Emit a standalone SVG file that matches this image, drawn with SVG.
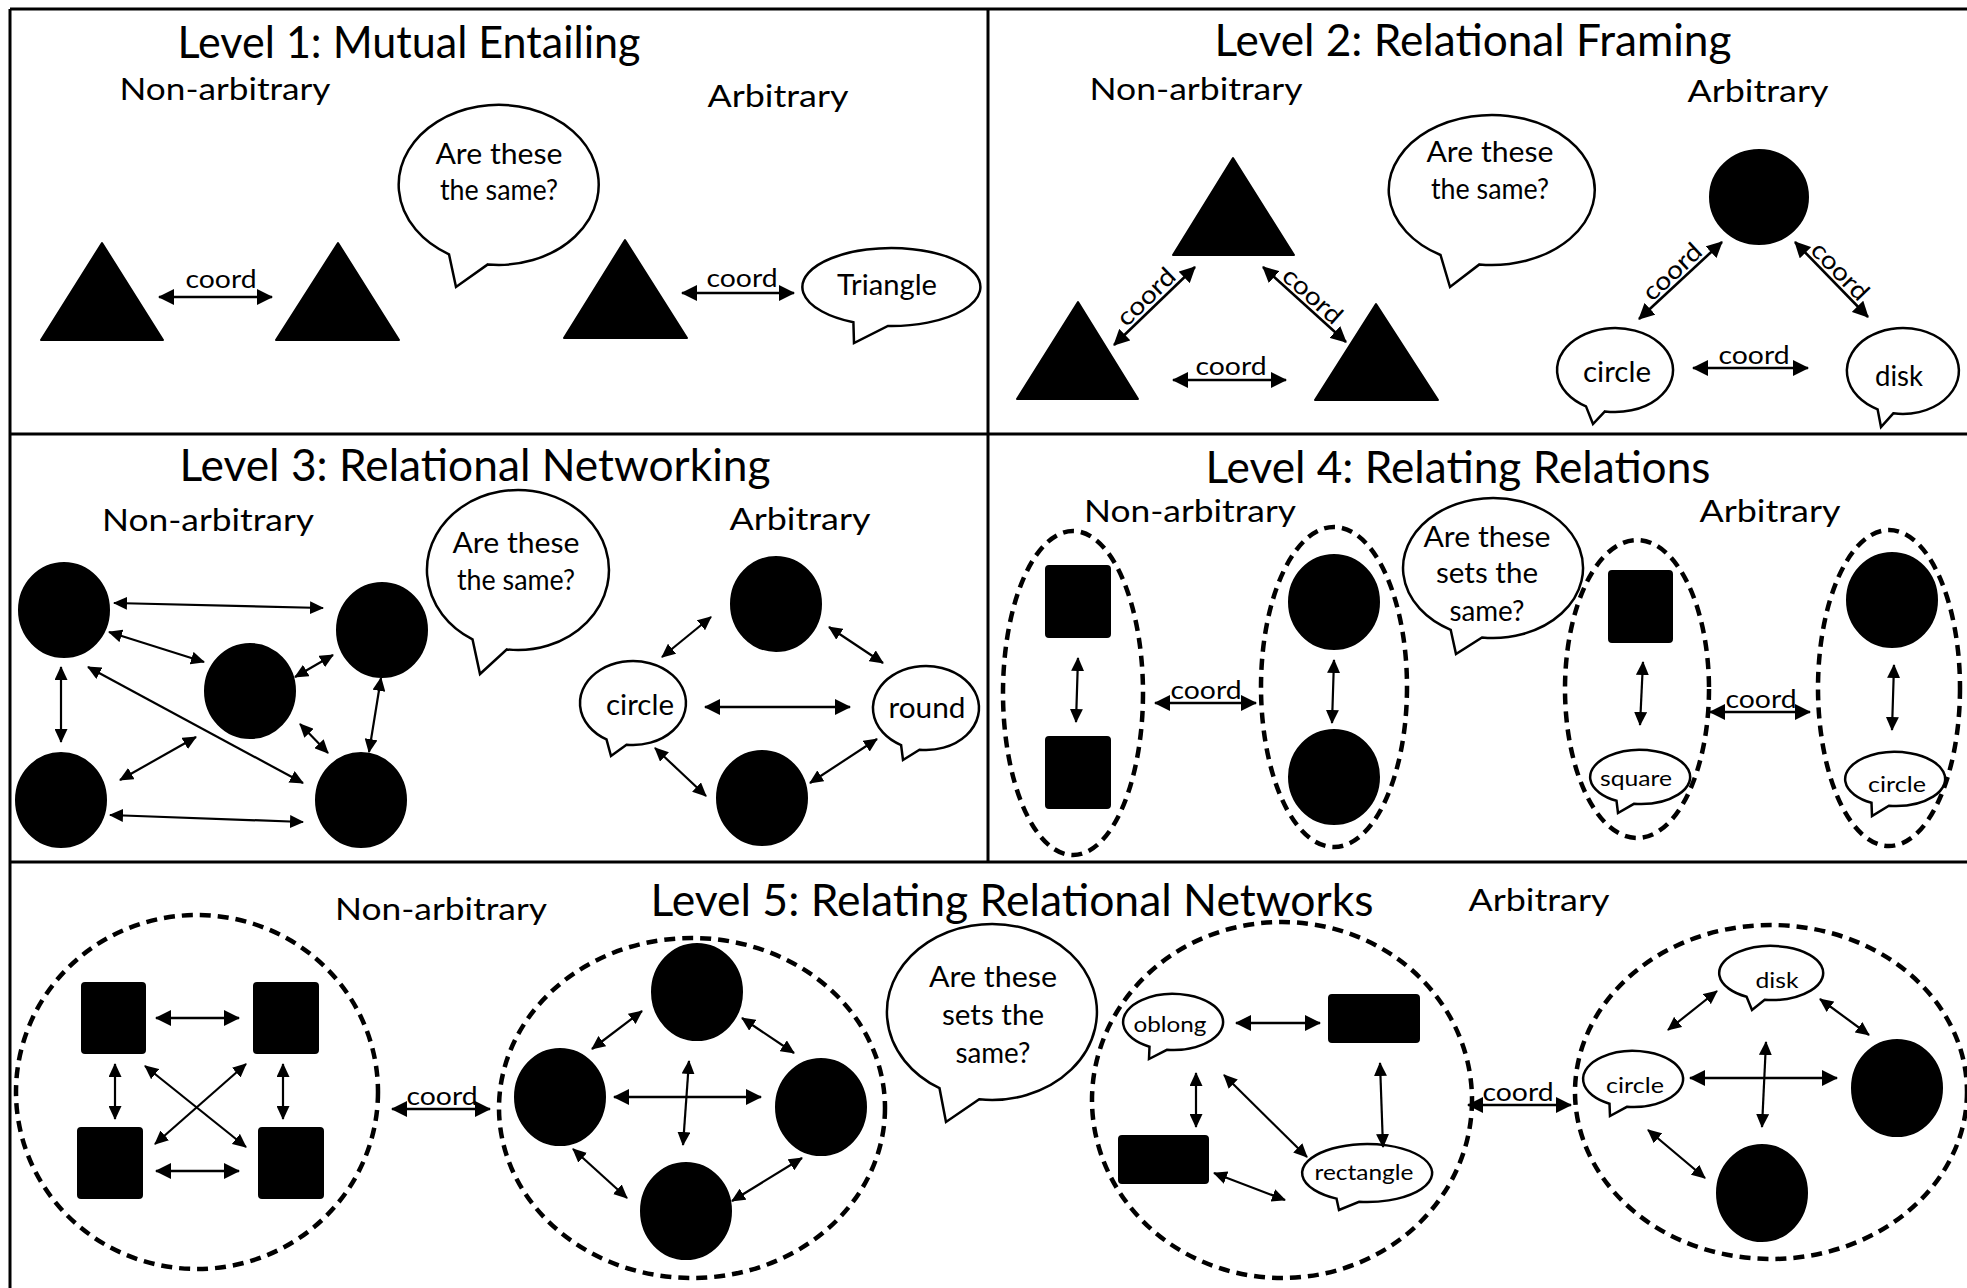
<svg xmlns="http://www.w3.org/2000/svg" width="1967" height="1288" viewBox="0 0 1967 1288">
<defs>
  <marker id="ah" viewBox="0 0 16 16" refX="15" refY="8" markerWidth="16" markerHeight="16" markerUnits="userSpaceOnUse" orient="auto-start-reverse">
    <path d="M0,0 L16,8 L0,16 Z" fill="#000"/>
  </marker>
  <marker id="as" viewBox="0 0 14 13" refX="13" refY="6.5" markerWidth="14" markerHeight="13" markerUnits="userSpaceOnUse" orient="auto-start-reverse">
    <path d="M0,0 L14,6.5 L0,13 Z" fill="#000"/>
  </marker>
  <style>
    .frame{stroke:#000;stroke-width:3;fill:none}
    .solid{fill:#000;stroke:#000;stroke-width:2;stroke-linejoin:round}
    .bub{fill:#fff;stroke:#000;stroke-width:2.5;stroke-linejoin:miter}
    .dash{fill:none;stroke:#000;stroke-width:4.5;stroke-dasharray:11 7}
    .arr{stroke:#000;stroke-width:2.6;fill:none;marker-start:url(#ah);marker-end:url(#ah)}
    .arr2{stroke:#000;stroke-width:2.2;fill:none;marker-start:url(#as);marker-end:url(#as)}
    text{font-family:Lato,"Liberation Sans",sans-serif;fill:#000;text-anchor:middle}
    .title{font-size:45px}
    .sub{font-size:31px}
    .q{font-size:29px}
    .lbl{font-size:28px}
    .sm{font-size:22px}
    .coord{font-size:25px}
  </style>
</defs>

<!-- panel frame -->
<g id="frame">
  <line class="frame" x1="10" y1="9" x2="1967" y2="9"/>
  <line class="frame" x1="10" y1="9" x2="10" y2="1288"/>
  <line class="frame" x1="10" y1="434" x2="1967" y2="434"/>
  <line class="frame" x1="10" y1="862" x2="1967" y2="862"/>
  <line class="frame" x1="988" y1="9" x2="988" y2="862"/>
</g>

<!-- headings -->
<g id="headings">
  <text class="title" x="409" y="58" textLength="463" lengthAdjust="spacingAndGlyphs">Level 1: Mutual Entailing</text>
  <text class="title" x="1473" y="56" textLength="517" lengthAdjust="spacingAndGlyphs">Level 2: Relational Framing</text>
  <text class="title" x="475" y="481" textLength="591" lengthAdjust="spacingAndGlyphs">Level 3: Relational Networking</text>
  <text class="title" x="1458" y="483" textLength="505" lengthAdjust="spacingAndGlyphs">Level 4: Relating Relations</text>
  <text class="title" x="1012" y="916" textLength="723" lengthAdjust="spacingAndGlyphs">Level 5: Relating Relational Networks</text>

  <text class="sub" x="225" y="100" textLength="211" lengthAdjust="spacingAndGlyphs">Non-arbitrary</text>
  <text class="sub" x="778" y="107" textLength="141" lengthAdjust="spacingAndGlyphs">Arbitrary</text>
  <text class="sub" x="1196" y="100" textLength="213" lengthAdjust="spacingAndGlyphs">Non-arbitrary</text>
  <text class="sub" x="1758" y="102" textLength="141" lengthAdjust="spacingAndGlyphs">Arbitrary</text>
  <text class="sub" x="208" y="531" textLength="212" lengthAdjust="spacingAndGlyphs">Non-arbitrary</text>
  <text class="sub" x="800" y="530" textLength="141" lengthAdjust="spacingAndGlyphs">Arbitrary</text>
  <text class="sub" x="1190" y="522" textLength="212" lengthAdjust="spacingAndGlyphs">Non-arbitrary</text>
  <text class="sub" x="1770" y="522" textLength="141" lengthAdjust="spacingAndGlyphs">Arbitrary</text>
  <text class="sub" x="441" y="920" textLength="212" lengthAdjust="spacingAndGlyphs">Non-arbitrary</text>
  <text class="sub" x="1539" y="911" textLength="141" lengthAdjust="spacingAndGlyphs">Arbitrary</text>
</g>

<!-- ===== Level 1 ===== -->
<g id="l1-tri-a"><polygon class="solid" points="41,340 102,243 163,340"/></g>
<g id="l1-tri-b"><polygon class="solid" points="276,340 338,243 399,340"/></g>
<g id="l1-tri-c"><polygon class="solid" points="564,338 625,240 687,338"/></g>
<g id="l1-question">
  <path class="bub" d="M449,254.3 A100,80 0 1 1 487.8,264.4 L456,287 Z"/>
  <text class="q" x="499" y="164" textLength="127" lengthAdjust="spacingAndGlyphs">Are these</text>
  <text class="q" x="499" y="200" textLength="118" lengthAdjust="spacingAndGlyphs">the same?</text>
</g>
<g id="l1-word-triangle">
  <path class="bub" d="M853.4,322.3 A89,39 0 1 1 887.9,326 L854,343 Z"/>
  <text class="lbl" x="887" y="295" textLength="100" lengthAdjust="spacingAndGlyphs">Triangle</text>
</g>

<!-- ===== Level 2 ===== -->
<g id="l2-tri-top"><polygon class="solid" points="1173,255 1233,158 1294,255"/></g>
<g id="l2-tri-left"><polygon class="solid" points="1017,399 1078,302 1138,399"/></g>
<g id="l2-tri-right"><polygon class="solid" points="1315,400 1376,304 1438,400"/></g>
<g id="l2-question">
  <path class="bub" d="M1440.5,255 A103,75 0 1 1 1479.4,264.4 L1450,287 Z"/>
  <text class="q" x="1490" y="162" textLength="127" lengthAdjust="spacingAndGlyphs">Are these</text>
  <text class="q" x="1490" y="199" textLength="118" lengthAdjust="spacingAndGlyphs">the same?</text>
</g>
<g id="l2-disc"><ellipse class="solid" cx="1759" cy="197" rx="49" ry="47"/></g>
<g id="l2-word-circle">
  <path class="bub" d="M1586,406.4 A58,42 0 1 1 1604.9,411.4 L1593,424 Z"/>
  <text class="lbl" x="1617" y="382" textLength="68" lengthAdjust="spacingAndGlyphs">circle</text>
</g>
<g id="l2-word-disk">
  <path class="bub" d="M1877.6,409.3 A56,43 0 1 1 1893.3,413.3 L1881,427 Z"/>
  <text class="lbl" x="1899" y="386" textLength="48" lengthAdjust="spacingAndGlyphs">disk</text>
</g>

<!-- ===== Level 3 ===== -->
<g id="l3-n1"><ellipse class="solid" cx="64" cy="610" rx="45" ry="47"/></g>
<g id="l3-n2"><ellipse class="solid" cx="382" cy="630" rx="45" ry="47"/></g>
<g id="l3-n3"><ellipse class="solid" cx="250" cy="691" rx="45" ry="47"/></g>
<g id="l3-n4"><ellipse class="solid" cx="61" cy="800" rx="45" ry="47"/></g>
<g id="l3-n5"><ellipse class="solid" cx="361" cy="800" rx="45" ry="47"/></g>
<g id="l3-question">
  <path class="bub" d="M472.5,639.3 A91,80 0 1 1 506.9,649.4 L480,674 Z"/>
  <text class="q" x="516" y="553" textLength="127" lengthAdjust="spacingAndGlyphs">Are these</text>
  <text class="q" x="516" y="590" textLength="118" lengthAdjust="spacingAndGlyphs">the same?</text>
</g>
<g id="l3-a-top"><ellipse class="solid" cx="776" cy="604" rx="45" ry="47"/></g>
<g id="l3-a-bottom"><ellipse class="solid" cx="762" cy="798" rx="45" ry="47"/></g>
<g id="l3-word-circle">
  <path class="bub" d="M606.5,739.4 A53,42 0 1 1 626.5,744.7 L611,756 Z"/>
  <text class="lbl" x="640" y="715" textLength="68" lengthAdjust="spacingAndGlyphs">circle</text>
</g>
<g id="l3-word-round">
  <path class="bub" d="M901.1,745.1 A53,42 0 1 1 919.5,749.7 L903,760 Z"/>
  <text class="lbl" x="927" y="718" textLength="77" lengthAdjust="spacingAndGlyphs">round</text>
</g>

<!-- ===== Level 4 ===== -->
<g id="l4-set-squares">
  <ellipse class="dash" cx="1073" cy="693" rx="70" ry="162"/>
  <rect class="solid" x="1046" y="566" width="64" height="71" rx="3"/>
  <rect class="solid" x="1046" y="737" width="64" height="71" rx="3"/>
</g>
<g id="l4-set-discs">
  <ellipse class="dash" cx="1334" cy="687" rx="73" ry="160"/>
  <ellipse class="solid" cx="1334" cy="602" rx="45" ry="47"/>
  <ellipse class="solid" cx="1334" cy="777" rx="45" ry="47"/>
</g>
<g id="l4-question">
  <path class="bub" d="M1450.7,629.8 A90,70 0 1 1 1482,637.5 L1456,654 Z"/>
  <text class="q" x="1487" y="547" textLength="127" lengthAdjust="spacingAndGlyphs">Are these</text>
  <text class="q" x="1487" y="583" textLength="102" lengthAdjust="spacingAndGlyphs">sets the</text>
  <text class="q" x="1487" y="621" textLength="75" lengthAdjust="spacingAndGlyphs">same?</text>
</g>
<g id="l4-set-square-word">
  <ellipse class="dash" cx="1637" cy="689" rx="72" ry="149"/>
  <rect class="solid" x="1609" y="571" width="63" height="71" rx="3"/>
  <path class="bub" d="M1616.5,800.8 A50,27 0 1 1 1633.9,803.8 L1618,813 Z"/>
  <text class="sm" x="1636" y="786" textLength="72" lengthAdjust="spacingAndGlyphs">square</text>
</g>
<g id="l4-set-disc-word">
  <ellipse class="dash" cx="1889" cy="688" rx="71" ry="158"/>
  <ellipse class="solid" cx="1892" cy="600" rx="45" ry="47"/>
  <path class="bub" d="M1871.5,802.8 A50,27 0 1 1 1888.9,805.8 L1872,816 Z"/>
  <text class="sm" x="1897" y="792" textLength="58" lengthAdjust="spacingAndGlyphs">circle</text>
</g>

<!-- ===== Level 5 ===== -->
<g id="l5-net-squares">
  <ellipse class="dash" cx="197" cy="1092" rx="181" ry="177"/>
  <rect class="solid" x="82" y="983" width="63" height="70" rx="3"/>
  <rect class="solid" x="254" y="983" width="64" height="70" rx="3"/>
  <rect class="solid" x="78" y="1128" width="64" height="70" rx="3"/>
  <rect class="solid" x="259" y="1128" width="64" height="70" rx="3"/>
</g>
<g id="l5-net-discs">
  <ellipse class="dash" cx="692" cy="1108" rx="193" ry="170"/>
  <ellipse class="solid" cx="697" cy="992" rx="45" ry="48"/>
  <ellipse class="solid" cx="560" cy="1097" rx="45" ry="48"/>
  <ellipse class="solid" cx="821" cy="1107" rx="45" ry="48"/>
  <ellipse class="solid" cx="686" cy="1211" rx="45" ry="48"/>
</g>
<g id="l5-question">
  <path class="bub" d="M939.5,1088.2 A105,88 0 1 1 979.2,1099.3 L946,1122 Z"/>
  <text class="q" x="993" y="987" textLength="128" lengthAdjust="spacingAndGlyphs">Are these</text>
  <text class="q" x="993" y="1025" textLength="102" lengthAdjust="spacingAndGlyphs">sets the</text>
  <text class="q" x="993" y="1063" textLength="75" lengthAdjust="spacingAndGlyphs">same?</text>
</g>
<g id="l5-net-words-a">
  <ellipse class="dash" cx="1282" cy="1100" rx="190" ry="178"/>
  <rect class="solid" x="1329" y="995" width="90" height="47" rx="3"/>
  <rect class="solid" x="1119" y="1136" width="89" height="47" rx="3"/>
  <path class="bub" d="M1149.5,1046.7 A50,28 0 1 1 1166.9,1049.8 L1149,1059 Z"/>
  <text class="sm" x="1170" y="1032" textLength="73" lengthAdjust="spacingAndGlyphs">oblong</text>
  <path class="bub" d="M1336.5,1198.6 A65,29 0 1 1 1359.1,1201.8 L1339,1210 Z"/>
  <text class="sm" x="1364" y="1180" textLength="99" lengthAdjust="spacingAndGlyphs">rectangle</text>
</g>
<g id="l5-net-words-b">
  <ellipse class="dash" cx="1771" cy="1092" rx="196" ry="167"/>
  <path class="bub" d="M1746.6,996.8 A52,27 0 1 1 1764.7,999.8 L1752,1010 Z"/>
  <text class="sm" x="1777" y="988" textLength="43" lengthAdjust="spacingAndGlyphs">disk</text>
  <path class="bub" d="M1609.5,1103.7 A50,28 0 1 1 1626.9,1106.8 L1610,1116 Z"/>
  <text class="sm" x="1635" y="1093" textLength="58" lengthAdjust="spacingAndGlyphs">circle</text>
  <ellipse class="solid" cx="1897" cy="1088" rx="45" ry="48"/>
  <ellipse class="solid" cx="1762" cy="1193" rx="45" ry="48"/>
</g>

<!-- ===== connectors ===== -->
<g id="connectors">
  <!-- level 1 -->
  <line class="arr" x1="159" y1="297" x2="272" y2="297"/>
  <line class="arr" x1="682" y1="293" x2="794" y2="293"/>
  <!-- level 2 -->
  <line class="arr" x1="1114" y1="345" x2="1195" y2="267"/>
  <line class="arr" x1="1263" y1="267" x2="1346" y2="342"/>
  <line class="arr" x1="1173" y1="380" x2="1286" y2="380"/>
  <line class="arr" x1="1722" y1="242" x2="1639" y2="319"/>
  <line class="arr" x1="1795" y1="242" x2="1868" y2="317"/>
  <line class="arr" x1="1693" y1="368" x2="1808" y2="368"/>
  <!-- level 3, non-arbitrary -->
  <line class="arr2" x1="114" y1="603" x2="323" y2="608"/>
  <line class="arr2" x1="109" y1="632" x2="204" y2="662"/>
  <line class="arr2" x1="333" y1="655" x2="295" y2="677"/>
  <line class="arr2" x1="61" y1="667" x2="61" y2="742"/>
  <line class="arr2" x1="88" y1="667" x2="303" y2="783"/>
  <line class="arr2" x1="300" y1="724" x2="328" y2="753"/>
  <line class="arr2" x1="381" y1="678" x2="369" y2="752"/>
  <line class="arr2" x1="120" y1="780" x2="196" y2="737"/>
  <line class="arr2" x1="110" y1="815" x2="303" y2="822"/>
  <!-- level 3, arbitrary -->
  <line class="arr2" x1="711" y1="617" x2="662" y2="657"/>
  <line class="arr2" x1="829" y1="627" x2="883" y2="663"/>
  <line class="arr" x1="705" y1="707" x2="850" y2="707"/>
  <line class="arr2" x1="655" y1="748" x2="706" y2="796"/>
  <line class="arr2" x1="877" y1="739" x2="810" y2="783"/>
  <!-- level 4 -->
  <line class="arr2" x1="1078" y1="658" x2="1076" y2="722"/>
  <line class="arr2" x1="1334" y1="660" x2="1332" y2="723"/>
  <line class="arr" x1="1155" y1="703" x2="1256" y2="703"/>
  <line class="arr2" x1="1643" y1="662" x2="1640" y2="725"/>
  <line class="arr" x1="1710" y1="712" x2="1810" y2="712"/>
  <line class="arr2" x1="1894" y1="665" x2="1892" y2="730"/>
  <!-- level 5, squares -->
  <line class="arr" x1="156" y1="1018" x2="239" y2="1018"/>
  <line class="arr" x1="156" y1="1171" x2="239" y2="1171"/>
  <line class="arr2" x1="115" y1="1064" x2="115" y2="1119"/>
  <line class="arr2" x1="283" y1="1064" x2="283" y2="1119"/>
  <line class="arr2" x1="145" y1="1066" x2="246" y2="1147"/>
  <line class="arr2" x1="246" y1="1064" x2="155" y2="1144"/>
  <line class="arr" x1="392" y1="1109" x2="490" y2="1109"/>
  <!-- level 5, discs -->
  <line class="arr2" x1="642" y1="1011" x2="592" y2="1049"/>
  <line class="arr2" x1="742" y1="1018" x2="794" y2="1053"/>
  <line class="arr" x1="614" y1="1097" x2="761" y2="1097"/>
  <line class="arr2" x1="689" y1="1061" x2="683" y2="1145"/>
  <line class="arr2" x1="573" y1="1149" x2="627" y2="1198"/>
  <line class="arr2" x1="802" y1="1158" x2="732" y2="1201"/>
  <!-- level 5, words and shapes -->
  <line class="arr" x1="1236" y1="1023" x2="1320" y2="1023"/>
  <line class="arr2" x1="1196" y1="1073" x2="1196" y2="1127"/>
  <line class="arr2" x1="1224" y1="1075" x2="1307" y2="1157"/>
  <line class="arr2" x1="1380" y1="1063" x2="1383" y2="1147"/>
  <line class="arr2" x1="1214" y1="1173" x2="1285" y2="1200"/>
  <line class="arr" x1="1468" y1="1105" x2="1571" y2="1105"/>
  <line class="arr2" x1="1717" y1="991" x2="1668" y2="1030"/>
  <line class="arr2" x1="1820" y1="999" x2="1869" y2="1035"/>
  <line class="arr" x1="1690" y1="1078" x2="1837" y2="1078"/>
  <line class="arr2" x1="1766" y1="1042" x2="1762" y2="1127"/>
  <line class="arr2" x1="1648" y1="1130" x2="1705" y2="1178"/>

  <!-- connector labels -->
  <text class="coord" x="221" y="288" textLength="71" lengthAdjust="spacingAndGlyphs">coord</text>
  <text class="coord" x="742" y="287" textLength="71" lengthAdjust="spacingAndGlyphs">coord</text>
  <text class="coord" transform="translate(1152,303) rotate(-44)" textLength="71" lengthAdjust="spacingAndGlyphs">coord</text>
  <text class="coord" transform="translate(1307,302) rotate(42)" textLength="71" lengthAdjust="spacingAndGlyphs">coord</text>
  <text class="coord" x="1231" y="375" textLength="71" lengthAdjust="spacingAndGlyphs">coord</text>
  <text class="coord" transform="translate(1678,278) rotate(-43)" textLength="71" lengthAdjust="spacingAndGlyphs">coord</text>
  <text class="coord" transform="translate(1834,277) rotate(46)" textLength="71" lengthAdjust="spacingAndGlyphs">coord</text>
  <text class="coord" x="1754" y="364" textLength="71" lengthAdjust="spacingAndGlyphs">coord</text>
  <text class="coord" x="1206" y="699" textLength="71" lengthAdjust="spacingAndGlyphs">coord</text>
  <text class="coord" x="1761" y="708" textLength="71" lengthAdjust="spacingAndGlyphs">coord</text>
  <text class="coord" x="442" y="1105" textLength="71" lengthAdjust="spacingAndGlyphs">coord</text>
  <text class="coord" x="1518" y="1101" textLength="71" lengthAdjust="spacingAndGlyphs">coord</text>
</g>
</svg>
